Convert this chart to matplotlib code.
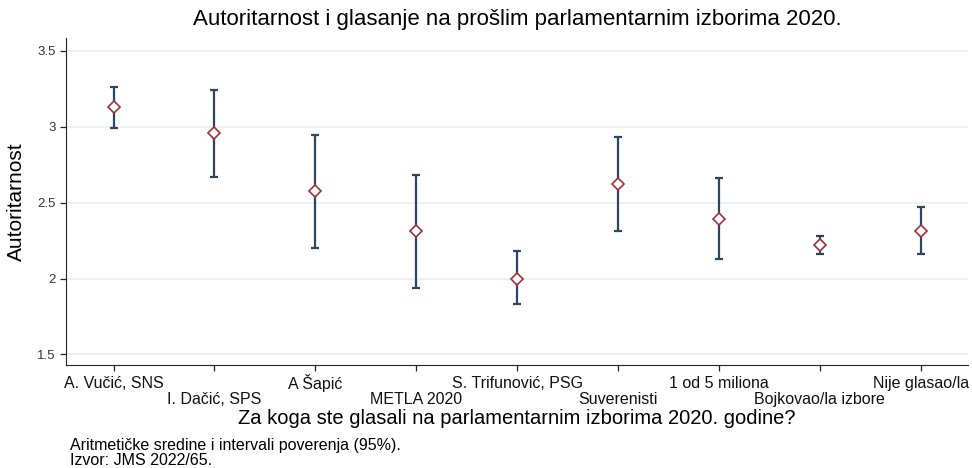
import matplotlib
matplotlib.use("Agg")
import matplotlib.pyplot as plt
import numpy as np

categories = ["A. Vučić, SNS", "I. Dačić, SPS", "A Šapić", "METLA 2020",
              "S. Trifunović, PSG", "Suverenisti", "1 od 5 miliona",
              "Bojkovao/la izbore", "Nije glasao/la"]
means = [3.13, 2.96, 2.575, 2.31, 2.00, 2.62, 2.395, 2.22, 2.31]
ci_low = [2.99, 2.67, 2.20, 1.94, 1.83, 2.31, 2.13, 2.16, 2.16]
ci_high = [3.26, 3.24, 2.945, 2.68, 2.18, 2.93, 2.66, 2.28, 2.47]
yticks = [1.5, 2, 2.5, 3, 3.5]
ytick_labels = ["1.5", "2", "2.5", "3", "3.5"]

plt.rcParams['font.family'] = ['Liberation Sans', 'DejaVu Sans']

fig = plt.figure(figsize=(9.72, 4.68), dpi=100)
ax = fig.add_axes([0.068, 0.22, 0.928, 0.699])

x = np.arange(len(categories))
means_a = np.array(means)
lo = means_a - np.array(ci_low)
hi = np.array(ci_high) - means_a

for yv in yticks:
    ax.axhline(yv, color="#eaeef0", lw=1.2, zorder=0)

ax.errorbar(x, means_a, yerr=[lo, hi], fmt="none", ecolor="#2c4560",
            elinewidth=1.6, capsize=3.2, capthick=1.6, zorder=2)
ax.plot(x, means_a, linestyle="none", marker="D", markersize=6.5,
        markerfacecolor="white", markeredgecolor="#a0303a",
        markeredgewidth=1.2, zorder=3)

ax.set_xlim(-0.47, 8.47)
ax.set_ylim(1.43, 3.585)
ax.set_yticks(yticks)
ax.set_yticklabels(ytick_labels, fontsize=9.5, color="#333333")
ax.set_xticks(x)
ax.set_xticklabels([])
for i, lab in enumerate(categories):
    off = 13 if i % 2 == 0 else 24.5
    ax.annotate(lab, xy=(i, 0), xycoords=("data", "axes fraction"),
                xytext=(0, -off), textcoords="offset points",
                ha="center", va="center", fontsize=11.5, color="#111111")

for side in ["top", "right"]:
    ax.spines[side].set_visible(False)
ax.spines["left"].set_color("#222222")
ax.spines["bottom"].set_color("#222222")
ax.tick_params(axis="both", length=4, width=0.9, color="#222222")

ax.set_ylabel("Autoritarnost", fontsize=15, labelpad=8)
ax.set_title("Autoritarnost i glasanje na prošlim parlamentarnim izborima 2020.",
             fontsize=16, pad=9)
fig.text(0.532, 0.105, "Za koga ste glasali na parlamentarnim izborima 2020. godine?",
         ha="center", va="center", fontsize=14.5)
fig.text(0.072, 0.049, "Aritmetičke sredine i intervali poverenja (95%).",
         ha="left", va="center", fontsize=11.5)
fig.text(0.072, 0.016, "Izvor: JMS 2022/65.", ha="left", va="center", fontsize=11.5)

fig.savefig("out.png", dpi=100, facecolor="white")
